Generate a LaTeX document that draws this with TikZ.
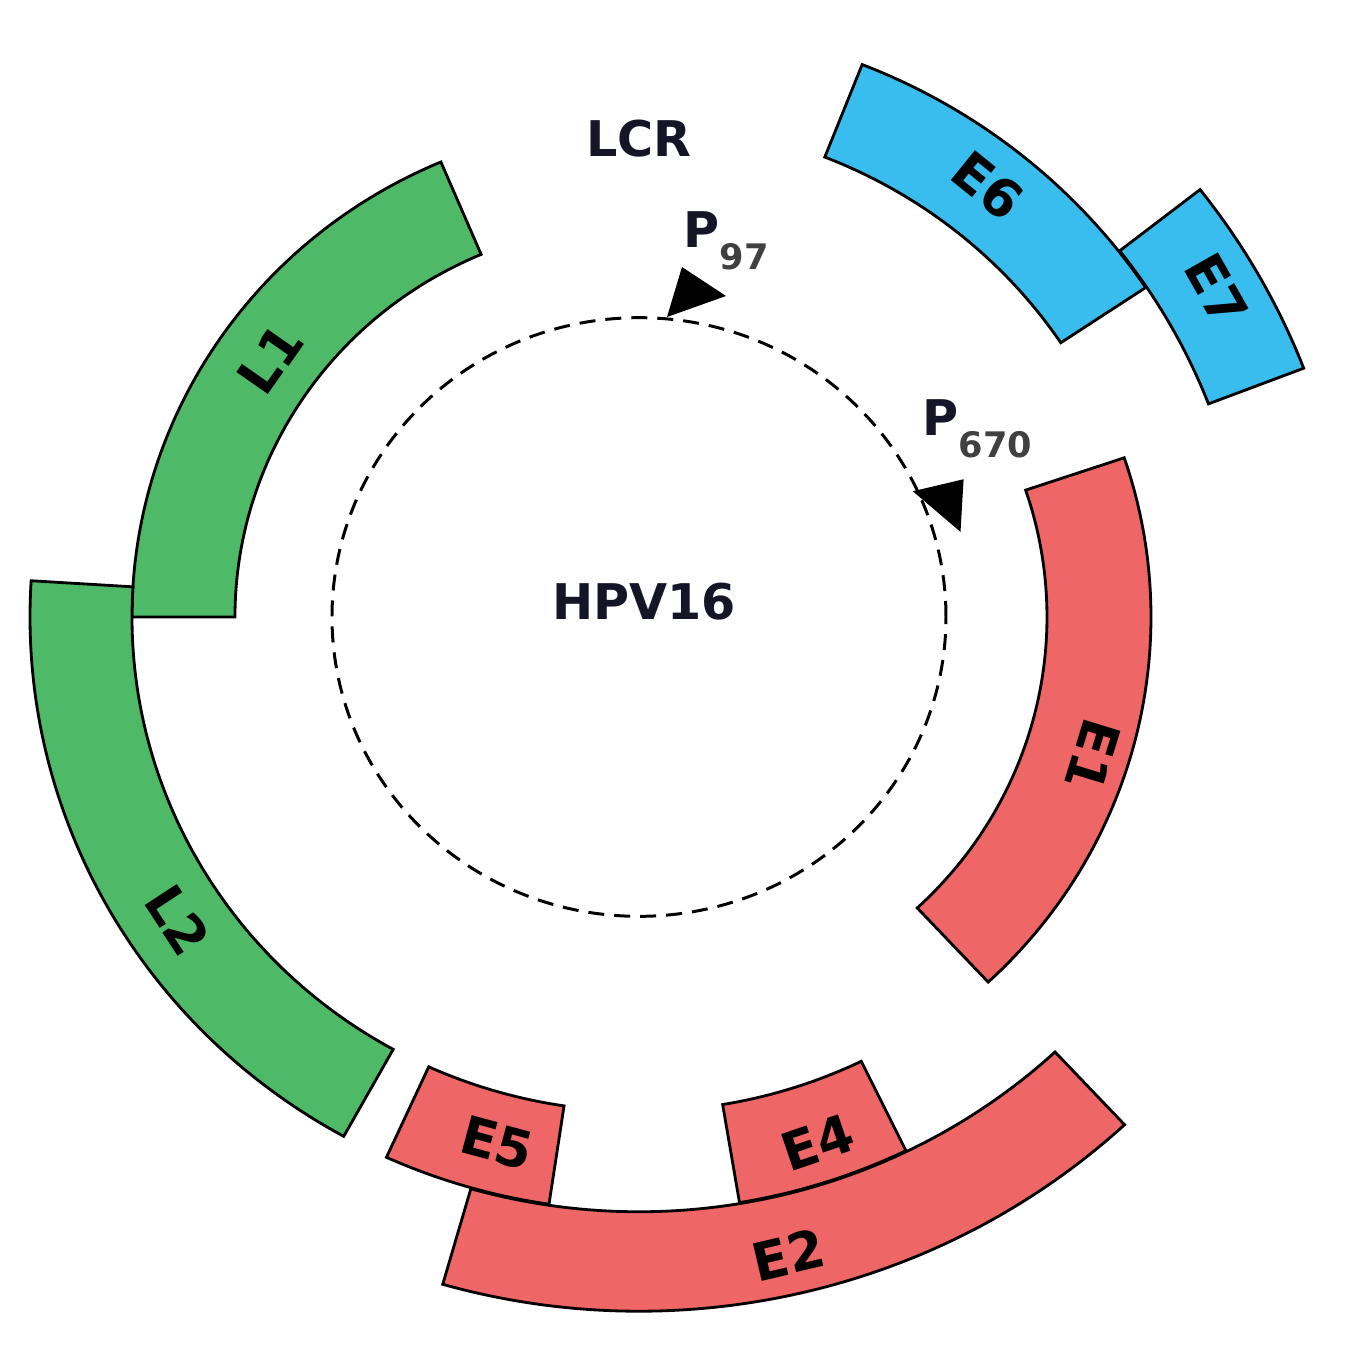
\documentclass[tikz,border=0pt]{standalone}
\usepackage{fontspec}
\setmainfont{DejaVu Sans}
\definecolor{gblue}{RGB}{56,189,238}
\definecolor{ggreen}{RGB}{78,186,104}
\definecolor{gred}{RGB}{238,102,102}
\definecolor{txt}{RGB}{20,22,40}
\newcommand\gsector[5]{%
  \draw[seg,fill=#1] (#2:#4cm) arc[start angle=#2, end angle=#3, radius=#4cm]
    -- (#3:#5cm) arc[start angle=#3, end angle=#2, radius=#5cm] -- cycle;}
\newcommand\gsub[1]{\raisebox{-6.5pt}{\fontsize{10}{12}\selectfont\color{darkgray}#1}}
\begin{document}
\begin{tikzpicture}[
  seg/.style={draw=black, line width=0.8pt, line join=miter},
  lab/.style={font=\bfseries\fontsize{15}{15}\selectfont, text=black, inner sep=0pt},
  title/.style={font=\bfseries\fontsize{14}{14}\selectfont, text=txt, inner sep=0pt},
  genome/.style={line width=0.85pt, dash pattern=on 0.16cm off 0.10cm}
]
\useasboundingbox (-6.39,-7.30) rectangle (7.11,6.17);
\begin{scope}[yscale=0.975]
% genome circle
\draw[genome] (0,0) circle[radius=3.07cm];
% ORFs
\gsector{ggreen}{113}{180}{4.04}{5.07}   % L1
\gsector{ggreen}{176.5}{241}{5.07}{6.09} % L2
\gsector{gred}{-47}{18.6}{4.08}{5.12}    % E1
\gsector{gblue}{33.7}{68.5}{5.07}{6.09}  % E6
\gsector{gblue}{21}{38}{6.1}{7.12}       % E7
\gsector{gred}{-106}{-47}{6.1}{7.12}     % E2
\gsector{gred}{-114.5}{-98.5}{5.07}{6.09} % E5
\gsector{gred}{-80.5}{-64}{5.07}{6.09}   % E4
\end{scope}
% ORF labels
\node[lab, rotate=-39]   (e6) at (51:5.55)     {E6};
\node[lab, rotate=-60.5] (e7) at (29.5:6.64)   {E7};
\node[lab, rotate=-107]  (e1) at (-17:4.75)    {E1};
\node[lab, rotate=55]    (l1) at (145:4.5)     {L1};
\node[lab, rotate=-56.7] (l2) at (213.3:5.52)  {L2};
\node[lab, rotate=-15.1] (e5) at (-105.1:5.45) {E5};
\node[lab, rotate=18.8]  (e4) at (-71.2:5.55)  {E4};
\node[lab, rotate=13.2]  (e2) at (-76.8:6.55)  {E2};
% titles
\node[title] (lcr) at (0,4.78) {LCR};
\node[title] (hpv) at (0.05,0.15) {HPV16};
\node[title, anchor=base west] (p97) at (0.44,3.70) {P\gsub{97}};
\node[title, anchor=base west] (p670) at (2.83,1.82) {P\gsub{670}};
% promoter arrowheads
\fill[black] (0.43,3.50) -- (0.28,3.00) -- (0.87,3.21) -- cycle;
\fill[black, rotate=-60] (0.43,3.50) -- (0.28,3.00) -- (0.87,3.21) -- cycle;
\end{tikzpicture}
\end{document}
